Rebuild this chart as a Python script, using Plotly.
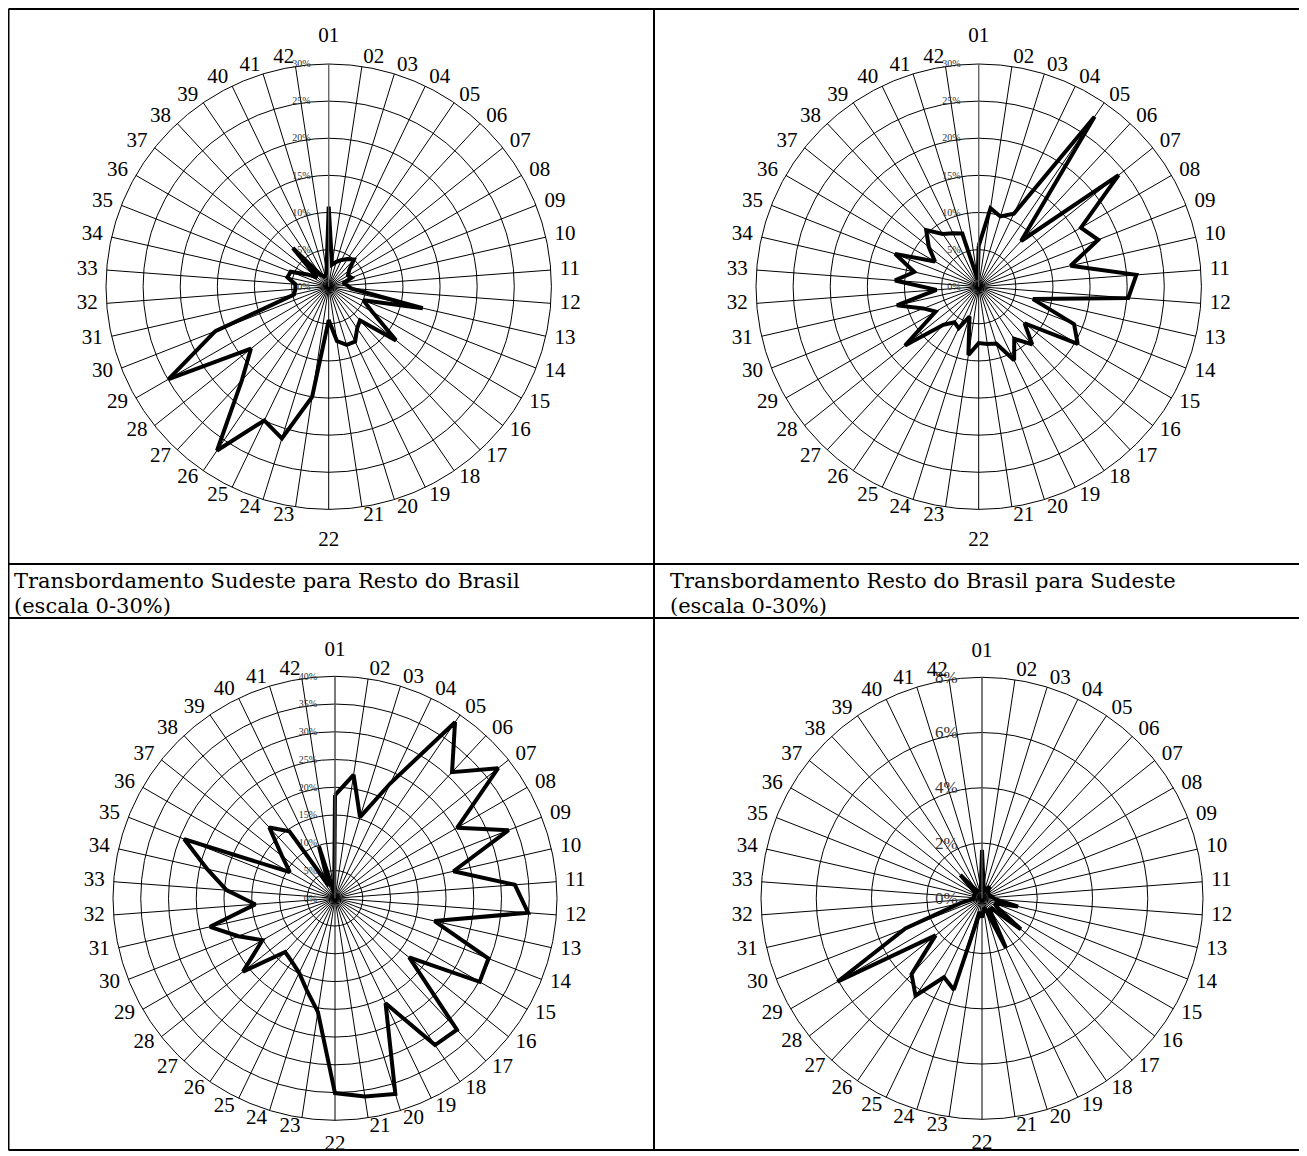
import plotly.graph_objects as go

W, H = 1307, 1156
OFF = 8  # page body margin of the html page
FW, FH = W - OFF, H - OFF

categories = ["01", "02", "03", "04", "05", "06", "07", "08", "09", "10",
              "11", "12", "13", "14", "15", "16", "17", "18", "19", "20",
              "21", "22", "23", "24", "25", "26", "27", "28", "29", "30",
              "31", "32", "33", "34", "35", "36", "37", "38", "39", "40",
              "41", "42"]

# Transbordamento Sudeste para Resto do Brasil (%)
se_to_rest = [10.8, 3.0, 3.5, 4.0, 4.5, 5.0, 3.5, 3.0, 3.3, 2.0,
              2.5, 3.0, 13.0, 5.0, 6.8, 11.6, 6.2, 6.8, 8.2, 8.2,
              7.4, 4.5, 15.0, 21.4, 20.0, 26.7, 17.2, 13.4, 24.9, 16.4,
              4.8, 4.5, 4.5, 5.7, 5.5, 3.3, 2.0, 7.1, 2.0, 1.5,
              1.5, 2.0]

# Transbordamento Resto do Brasil para Sudeste (%)
rest_to_se = [5.5, 10.7, 9.9, 10.9, 27.7, 8.4, 24.1, 15.9, 17.3, 12.7,
              21.3, 20.2, 7.5, 13.8, 15.4, 7.9, 10.6, 8.5, 11.0, 8.0,
              7.8, 7.6, 9.3, 4.2, 6.2, 5.8, 7.0, 12.7, 6.7, 8.0,
              11.3, 5.7, 11.3, 8.9, 12.1, 6.8, 8.6, 10.4, 8.6, 8.0,
              7.5, 1.0]

# bottom-left panel (escala 0-40%)
panel3 = [18.6, 22.5, 15.3, 23.0, 38.4, 31.0, 37.6, 25.4, 33.6, 21.9,
          32.5, 34.9, 18.4, 29.7, 30.1, 17.1, 32.3, 32.0, 21.0, 36.9,
          36.1, 35.1, 20.7, 17.3, 14.9, 13.8, 13.2, 21.2, 15.1, 18.7,
          23.1, 14.4, 19.6, 23.6, 29.2, 9.4, 12.2, 17.4, 14.6, 2.5,
          9.8, 1.0]

# bottom-right panel (escala 0-8%)
panel4 = [1.75, 0.4, 0.3, 0.4, 0.5, 0.3, 0.3, 0.3, 0.3, 0.3,
          0.4, 0.5, 1.34, 0.5, 0.6, 1.8, 0.5, 0.5, 2.0, 0.4,
          0.4, 0.7, 0.5, 3.46, 3.17, 4.27, 3.75, 2.15, 6.04, 2.98,
          0.8, 0.3, 0.3, 0.3, 0.3, 0.3, 0.3, 1.15, 0.3, 0.3,
          0.3, 0.3]

caption_titles = ["Transbordamento Sudeste para Resto do Brasil",
                  "Transbordamento Resto do Brasil para Sudeste"]
caption_scales = ["(escala 0-30%)", "(escala 0-30%)"]

SERIF = "Liberation Serif, Times New Roman, serif"
CAPFONT = "DejaVu Serif, Liberation Serif, serif"


def px(x):
    return (x - OFF) / FW


def py(y):
    return 1 - (y - OFF) / FH


def dom(cx, cy, r):
    return dict(x=[px(cx - r), px(cx + r)], y=[py(cy + r), py(cy - r)])


def polar_layout(cx, cy, r, rmax, dtick, tsize, rlen):
    return dict(
        domain=dom(cx, cy, r),
        bgcolor="white",
        angularaxis=dict(
            type="category", categoryarray=categories,
            rotation=90, direction="clockwise",
            showline=True, linecolor="black", linewidth=1,
            showgrid=True, gridcolor="black", gridwidth=1,
            ticks="", showticklabels=False,
        ),
        radialaxis=dict(
            range=[0, rmax], dtick=dtick, ticksuffix="%",
            angle=90, side="counterclockwise", tickangle=90,
            showline=True, linecolor="#777", linewidth=1,
            showgrid=True, gridcolor="black", gridwidth=1,
            ticks="outside", ticklen=rlen, tickcolor="rgba(0,0,0,0)",
            tickfont=dict(family=SERIF, size=tsize, color="#333"),
        ),
    )


def label_polar_layout(cx, cy, R):
    # invisible overlay polar frame (pixel radial units) that carries the category labels
    return dict(
        domain=dom(cx, cy, R),
        bgcolor="rgba(0,0,0,0)",
        angularaxis=dict(
            type="category", categoryarray=categories,
            rotation=90, direction="clockwise",
            showline=False, showgrid=False, ticks="", showticklabels=False,
        ),
        radialaxis=dict(range=[0, R], showline=False, showgrid=False,
                        ticks="", showticklabels=False),
    )


def label_trace(nm, rpx, top_pad, bottom_pad, side_pad=9):
    n = len(categories)
    rr, tp = [], []
    for k in range(n):
        ang = k * 360.0 / n
        if k == 0:
            rr.append(rpx + top_pad)
            tp.append("middle center")
        elif abs(ang - 180) < 1e-6:
            rr.append(rpx + bottom_pad)
            tp.append("middle center")
        elif ang < 180:
            rr.append(rpx + side_pad)
            tp.append("middle right")
        else:
            rr.append(rpx + side_pad)
            tp.append("middle left")
    return go.Scatterpolar(
        r=rr, theta=categories, mode="text", text=categories,
        textposition=tp, cliponaxis=False,
        textfont=dict(family=SERIF, size=21, color="black"),
        subplot=nm, showlegend=False, hoverinfo="skip")


fig = go.Figure()
series = [se_to_rest, rest_to_se, panel3, panel4]
names = ["polar", "polar2", "polar3", "polar4"]
for vals, nm in zip(series, names):
    fig.add_trace(go.Scatterpolar(
        r=vals + [vals[0]], theta=categories + [categories[0]],
        mode="lines", line=dict(color="black", width=4),
        subplot=nm, showlegend=False, hoverinfo="skip"))

# panel geometry: (center x, center y, radius) in page pixels
P1 = (328.7, 286.7, 222.7)
P2 = (978.7, 286.7, 222.7)
P3 = (335.0, 898.3, 222.0)
P4 = (982.0, 898.3, 221.0)

fig.add_trace(label_trace("polar5", P1[2], 27, 31))
fig.add_trace(label_trace("polar6", P2[2], 27, 31))
fig.add_trace(label_trace("polar7", P3[2], 26, 24))
fig.add_trace(label_trace("polar8", P4[2], 26, 24))

shapes = []
LW = 2


def hline(y, x0, x1):
    shapes.append(dict(type="line", xref="paper", yref="paper",
                       x0=px(x0), x1=px(x1), y0=py(y), y1=py(y),
                       line=dict(color="black", width=LW)))


def vline(x, y0, y1):
    shapes.append(dict(type="line", xref="paper", yref="paper",
                       x0=px(x), x1=px(x), y0=py(y0), y1=py(y1),
                       line=dict(color="black", width=LW)))


for y in [9, 564, 618, 1150]:
    hline(y, 8.5, 1303)
for x in [8.5, 654, 1303]:
    vline(x, 9, 1150)

annotations = []
for i in range(2):
    x0 = 12 if i == 0 else 668
    annotations.append(dict(
        x=px(x0), y=py(581), xref="paper", yref="paper",
        xanchor="left", yanchor="middle", showarrow=False,
        text=caption_titles[i], font=dict(family=CAPFONT, size=21, color="black")))
    annotations.append(dict(
        x=px(x0), y=py(606), xref="paper", yref="paper",
        xanchor="left", yanchor="middle", showarrow=False,
        text=caption_scales[i], font=dict(family=CAPFONT, size=21, color="black")))

fig.update_layout(
    width=FW, height=FH,
    margin=dict(l=0, r=0, t=0, b=0),
    paper_bgcolor="white", plot_bgcolor="white",
    polar=polar_layout(*P1, 30, 5, 10, 14),
    polar2=polar_layout(*P2, 30, 5, 10, 14),
    polar3=polar_layout(*P3, 40, 5, 10, 14),
    polar4=polar_layout(*P4, 8, 2, 17, 18),
    polar5=label_polar_layout(P1[0], P1[1], P1[2] + 32),
    polar6=label_polar_layout(P2[0], P2[1], P2[2] + 32),
    polar7=label_polar_layout(P3[0], P3[1], P3[2] + 27),
    polar8=label_polar_layout(P4[0], P4[1], P4[2] + 27),
    shapes=shapes, annotations=annotations,
)

fig.write_html("out.html")
